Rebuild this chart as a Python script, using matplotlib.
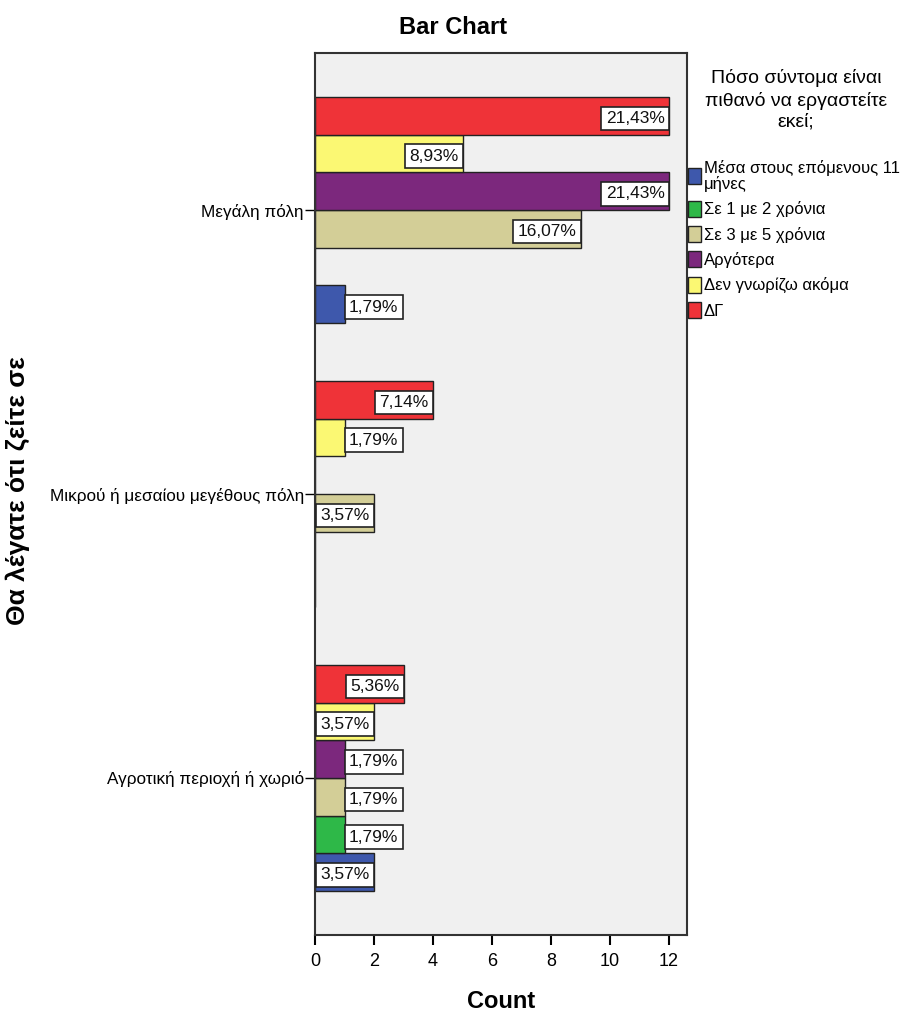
import numpy as np
import matplotlib
matplotlib.use("Agg")
import matplotlib.pyplot as plt
from matplotlib.patches import Patch

plt.rcParams['font.family'] = ['Liberation Sans', 'DejaVu Sans']

categories = ["Μεγάλη πόλη", "Μικρού ή μεσαίου μεγέθους πόλη", "Αγροτική περιοχή ή χωριό"]
series = ["Μέσα στους επόμενους 11\nμήνες", "Σε 1 με 2 χρόνια", "Σε 3 με 5 χρόνια",
          "Αργότερα", "Δεν γνωρίζω ακόμα", "ΔΓ"]
colors = ["#3e58ac", "#2eb848", "#d3ce97", "#7c287d", "#fbf873", "#ef3338"]
# counts per series, one value per category
counts = [
    [1, 0, 2],    # Μέσα στους επόμενους 11 μήνες
    [0, 0, 1],    # Σε 1 με 2 χρόνια
    [9, 2, 1],    # Σε 3 με 5 χρόνια
    [12, 0, 1],   # Αργότερα
    [5, 1, 2],    # Δεν γνωρίζω ακόμα
    [12, 4, 3],   # ΔΓ
]
pct_labels = [
    ["1,79%", "", "3,57%"],
    ["", "", "1,79%"],
    ["16,07%", "3,57%", "1,79%"],
    ["21,43%", "", "1,79%"],
    ["8,93%", "1,79%", "3,57%"],
    ["21,43%", "7,14%", "5,36%"],
]

fig = plt.figure(figsize=(9.11, 10.15), dpi=100)
ax = fig.add_axes([315/911, 1-935/1015, (687-315)/911, (935-53)/1015])
ax.set_facecolor("#f0f0f0")

ypos = np.arange(len(categories))
h = 0.1327
lab_fs = 12.5
pad = 0.25
for s in range(len(series)):
    off = (2.5 - s) * h
    vals = np.array(counts[s])
    ax.barh(ypos + off, vals, height=h, color=colors[s], edgecolor="#222222", linewidth=1.0)
    for c in range(len(categories)):
        v = vals[c]
        if v == 0:
            continue
        if v >= 2:
            ha, dx = "right", -pad * lab_fs
        else:
            ha, dx = "left", pad * lab_fs
        ax.annotate(pct_labels[s][c], (v, ypos[c] + off), xytext=(dx, -2), textcoords="offset points",
                    ha=ha, va="center", fontsize=lab_fs, color="#111111",
                    bbox=dict(boxstyle="square,pad=%g" % pad, fc="white", ec="#222222", lw=1.2))

ax.set_xlim(0, 12.61)
ax.set_ylim(2.553, -0.553)
ax.set_xticks(np.arange(0, 13, 2))
ax.set_yticks(ypos)
ax.set_yticklabels(categories, fontsize=12.3)
ax.tick_params(axis="x", labelsize=13, length=7, width=1.5, pad=6)
ax.tick_params(axis="y", length=7, width=1.0, pad=1)
for sp in ax.spines.values():
    sp.set_linewidth(1.5)
    sp.set_color("#333333")

ax.set_xlabel("Count", fontsize=17, fontweight="bold", labelpad=14)
fig.text(0.02, 0.517, "Θα λέγατε ότι ζείτε σε", rotation=90, fontsize=19, fontweight="bold",
         ha="center", va="center")
fig.text(0.497, 0.973, "Bar Chart", fontsize=17, fontweight="bold", ha="center", va="center")

fig.text(796/911, 1-100/1015, "Πόσο σύντομα είναι\nπιθανό να εργαστείτε\nεκεί;", fontsize=14,
         ha="center", va="center", linespacing=1.3)
handles = [Patch(facecolor=colors[i], edgecolor="#222222", label=series[i]) for i in range(len(series))]
leg = fig.legend(handles=handles, loc="upper left", bbox_to_anchor=(688/911, 1-160/1015),
                 frameon=False, fontsize=12, handlelength=0.75, handleheight=1.1,
                 handletextpad=0.2, labelspacing=0.52, borderpad=0.0, borderaxespad=0)
for t in leg.get_texts():
    t.set_linespacing(1.0)

fig.savefig("out.png", dpi=100)
